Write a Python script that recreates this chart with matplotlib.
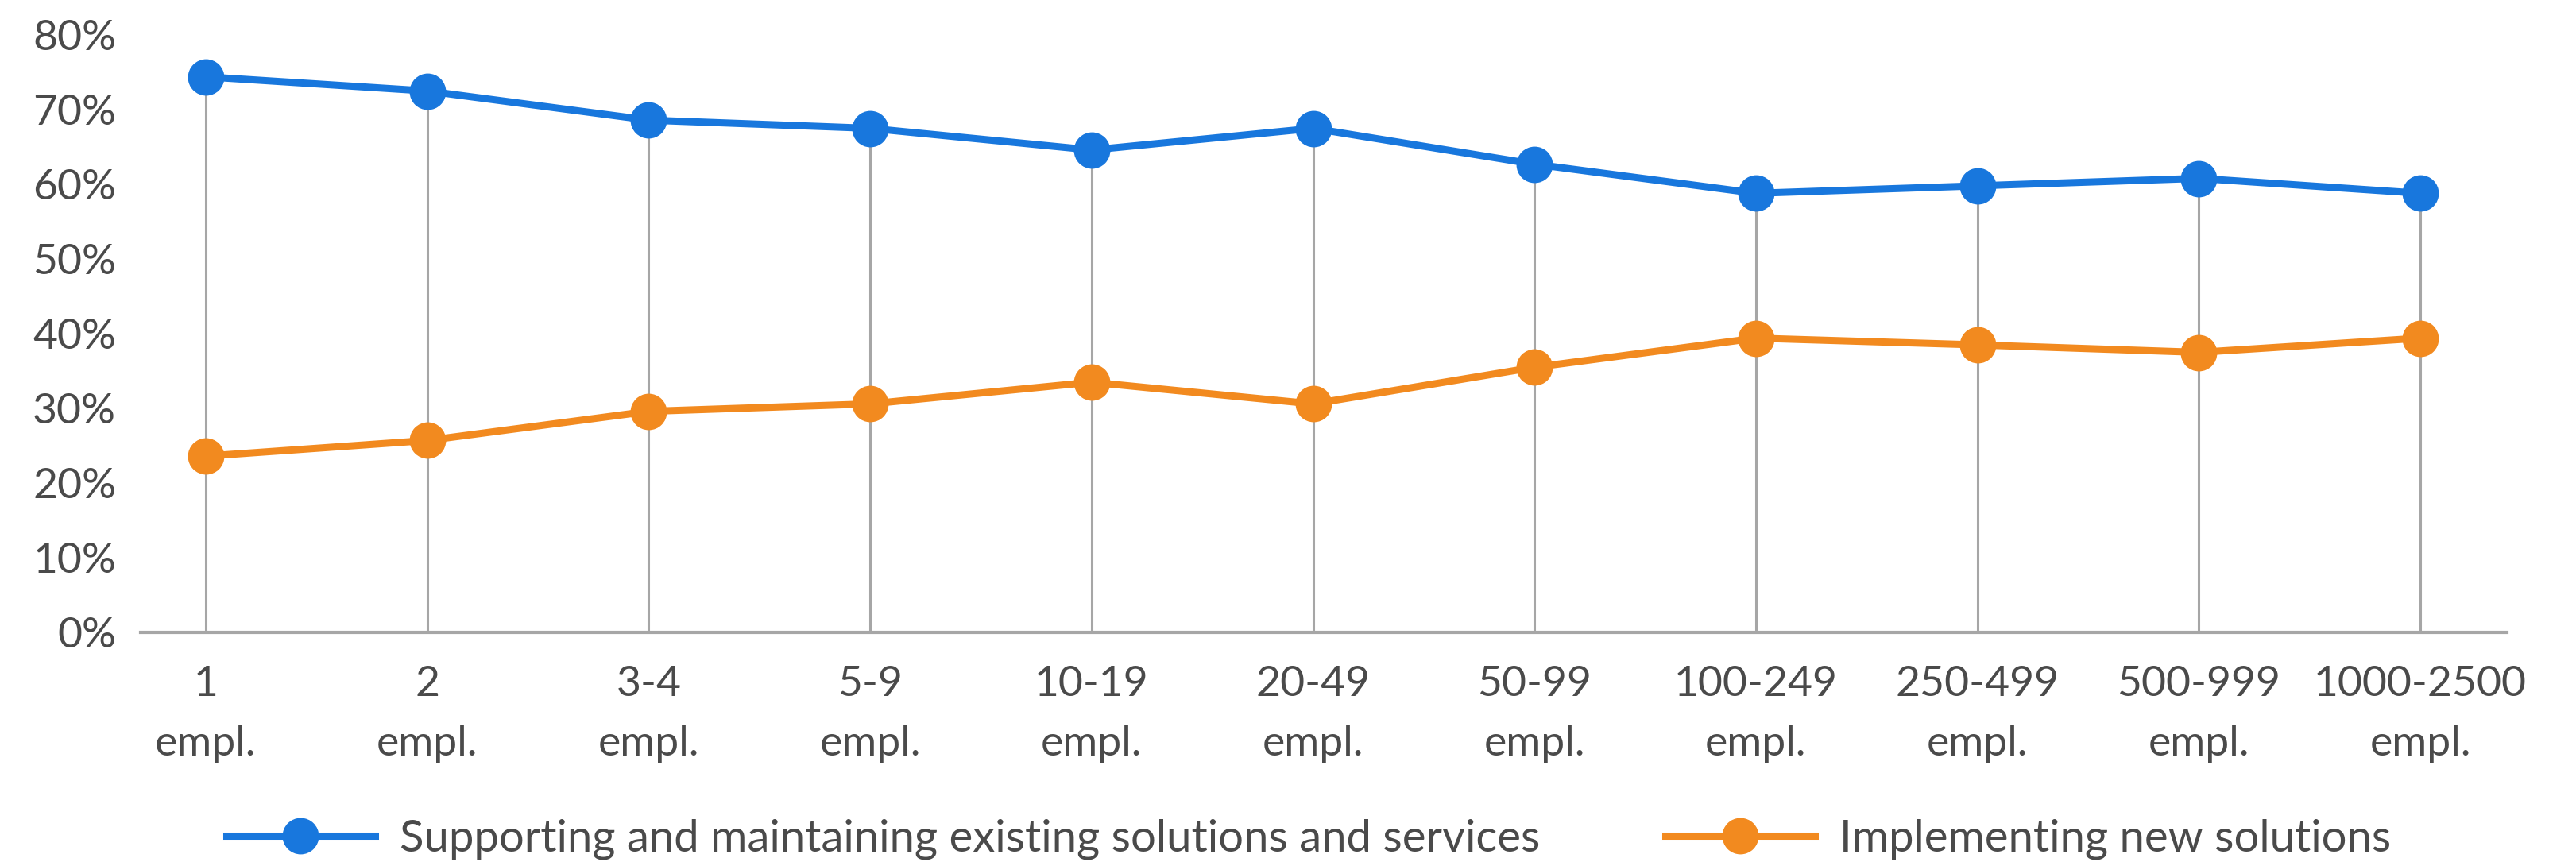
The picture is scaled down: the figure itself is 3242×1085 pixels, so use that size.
import matplotlib
matplotlib.use("Agg")
import matplotlib.pyplot as plt
import numpy as np

categories = ["1\nempl.", "2\nempl.", "3-4\nempl.", "5-9\nempl.", "10-19\nempl.",
              "20-49\nempl.", "50-99\nempl.", "100-249\nempl.", "250-499\nempl.",
              "500-999\nempl.", "1000-2500\nempl."]
supporting = [74.4, 72.5, 68.6, 67.5, 64.6, 67.5, 62.7, 58.8, 59.8, 60.8, 58.8]
implementing = [23.6, 25.7, 29.6, 30.6, 33.5, 30.6, 35.5, 39.4, 38.5, 37.5, 39.4]
series_names = ["Supporting and maintaining existing solutions and services",
                "Implementing new solutions"]
yticks = [0, 10, 20, 30, 40, 50, 60, 70, 80]

BLUE = "#1877DD"
ORANGE = "#F28A1F"
GREY = "#A6A6A6"
TEXT = "#4A4A4A"

plt.rcParams['font.family'] = ['Lato', 'DejaVu Sans']

fig = plt.figure(figsize=(32.42, 10.85), dpi=100)
ax = fig.add_axes([0.0545, 0.2664, 0.9186, 0.693])

x = np.arange(len(categories))
ax.vlines(x, 0, np.maximum(supporting, implementing), color=GREY, lw=2.2, zorder=1)
ax.plot(x, supporting, color=BLUE, lw=6.5, marker='o', markersize=32,
        label=series_names[0], zorder=3, solid_joinstyle='round')
ax.plot(x, implementing, color=ORANGE, lw=6.5, marker='o', markersize=32,
        label=series_names[1], zorder=3, solid_joinstyle='round')

ax.set_xlim(-0.295, 10.39)
ax.set_ylim(0, 80)
ax.set_yticks(yticks)
ax.set_yticklabels([f"{v}%" for v in yticks])
ax.set_xticks(x)
ax.set_xticklabels(categories, linespacing=1.75)

for s in ["top", "right", "left"]:
    ax.spines[s].set_visible(False)
ax.spines["bottom"].set_color(GREY)
ax.spines["bottom"].set_linewidth(3)
ax.spines["bottom"].set_zorder(0)

ax.tick_params(axis='y', length=0, pad=22, labelsize=38.5, labelcolor=TEXT)
ax.tick_params(axis='x', length=0, pad=30, labelsize=38.5, labelcolor=TEXT)

fig.legend(loc='center', bbox_to_anchor=(0.508, 1 - 1056 / 1085), ncol=2,
           frameon=False, fontsize=40.5, handlelength=3.34, handletextpad=0.55,
           columnspacing=2.8, labelcolor=TEXT, borderaxespad=0, borderpad=0)

fig.savefig("out.png", dpi=100, facecolor="white")
